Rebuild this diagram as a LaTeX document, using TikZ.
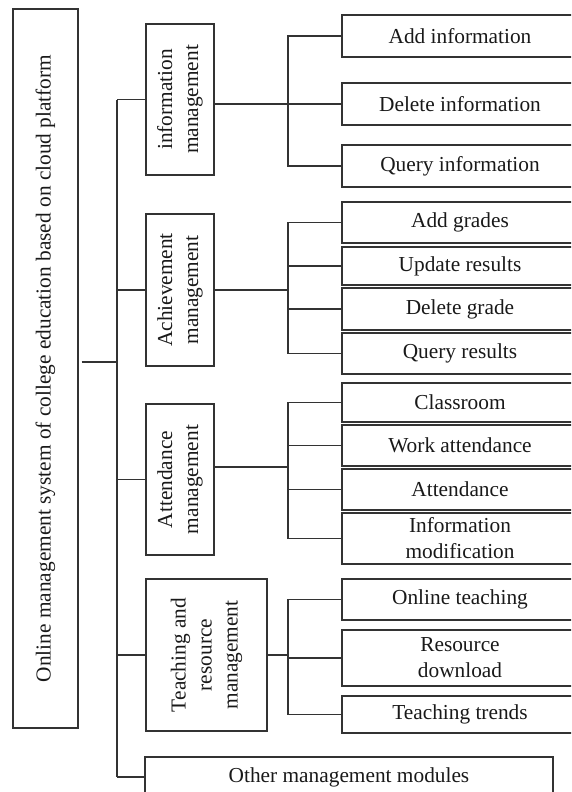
\documentclass[tikz,border=0pt]{standalone}
\usepackage{fontspec}
\setmainfont{Liberation Serif}
\begin{document}
\begin{tikzpicture}[x=0.75pt,y=-0.75pt,
  box/.style={draw=black!80, line width=0.8pt, inner sep=1pt, align=center,
              font=\fontsize{16}{19.5}\selectfont, text=black!90},
  vbox/.style={box, rotate=90},
  leaf/.style={box, minimum width=177pt},
  wire/.style={draw=black!80, line width=0.8pt}]
\useasboundingbox (0,0) rectangle (571,792);
\clip (0,0) rectangle (571,792);

% root of the module tree
\node[vbox, minimum width=539.25pt, minimum height=48.75pt] (root) at (45.5,368.5)
  {Online management system of college education based on cloud platform};

% second level modules
\node[vbox, minimum width=113.25pt, minimum height=51pt] (info) at (180,99.5) {information\\management};
\node[vbox, minimum width=114pt, minimum height=51pt] (ach) at (180,290) {Achievement\\management};
\node[vbox, minimum width=113.25pt, minimum height=51pt] (att) at (180,479.5) {Attendance\\management};
\node[vbox, minimum width=114pt, minimum height=90.75pt] (teach) at (206.5,655) {Teaching and\\resource\\management};
\node[box, minimum width=306pt, minimum height=30pt] (other) at (349,777) {Other management modules};

% leaf functions
\node[leaf, minimum height=31.5pt] (iadd) at (460,36) {Add information};
\node[leaf, minimum height=31.5pt] (idel) at (460,104) {Delete information};
\node[leaf, minimum height=31.5pt] (iqry) at (460,166) {Query information};

\node[leaf, minimum height=30.75pt] (aadd) at (460,222.5) {Add grades};
\node[leaf, minimum height=28.5pt] (aupd) at (460,266) {Update results};
\node[leaf, minimum height=31.5pt] (adel) at (460,309) {Delete grade};
\node[leaf, minimum height=30.75pt] (aqry) at (460,353.5) {Query results};

\node[leaf, minimum height=29.25pt] (tcls) at (460,402.5) {Classroom};
\node[leaf, minimum height=30.75pt] (twrk) at (460,445.5) {Work attendance};
\node[leaf, minimum height=30.75pt] (tatt) at (460,489.5) {Attendance};
\node[leaf, minimum height=38.25pt] (tmod) at (460,538.5) {Information\\modification};

\node[leaf, minimum height=30.75pt] (eonl) at (460,599.5) {Online teaching};
\node[leaf, minimum height=42pt] (eres) at (460,658) {Resource\\download};
\node[leaf, minimum height=27.75pt] (etrd) at (460,714.5) {Teaching trends};

% bus lines
\coordinate (trunk) at (117,0);
\coordinate (bus) at (288,0);

% root to second level
\coordinate (rootout) at ([xshift=2.25pt,yshift=4.9pt]root.south);
\draw[wire] (rootout) -- (rootout -| trunk);
\draw[wire] (info.north -| trunk) -- (other.west -| trunk);
\foreach \n in {info,ach,att,teach} \draw[wire] (\n.north -| trunk) -- (\n.north);
\draw[wire] (other.west -| trunk) -- (other.west);

% information management
\draw[wire] (info.south |- idel.west) -- (idel.west);
\draw[wire] (iadd.west) -- (iadd.west -| bus) -- (iqry.west -| bus) -- (iqry.west);

% achievement management
\draw[wire] (ach.south) -- (ach.south -| bus);
\draw[wire] (aadd.west) -- (aadd.west -| bus) -- (aqry.west -| bus) -- (aqry.west);
\foreach \n in {aupd,adel} \draw[wire] (\n.west -| bus) -- (\n.west);

% attendance management
\coordinate (attout) at ([yshift=9.4pt]att.south);
\draw[wire] (attout) -- (attout -| bus);
\draw[wire] (tcls.west) -- (tcls.west -| bus) -- (tmod.west -| bus) -- (tmod.west);
\foreach \n in {twrk,tatt} \draw[wire] (\n.west -| bus) -- (\n.west);

% teaching and resource management
\draw[wire] (teach.south) -- (teach.south -| bus);
\draw[wire] (eonl.west) -- (eonl.west -| bus) -- (etrd.west -| bus) -- (etrd.west);
\draw[wire] (eres.west -| bus) -- (eres.west);
\end{tikzpicture}
\end{document}
